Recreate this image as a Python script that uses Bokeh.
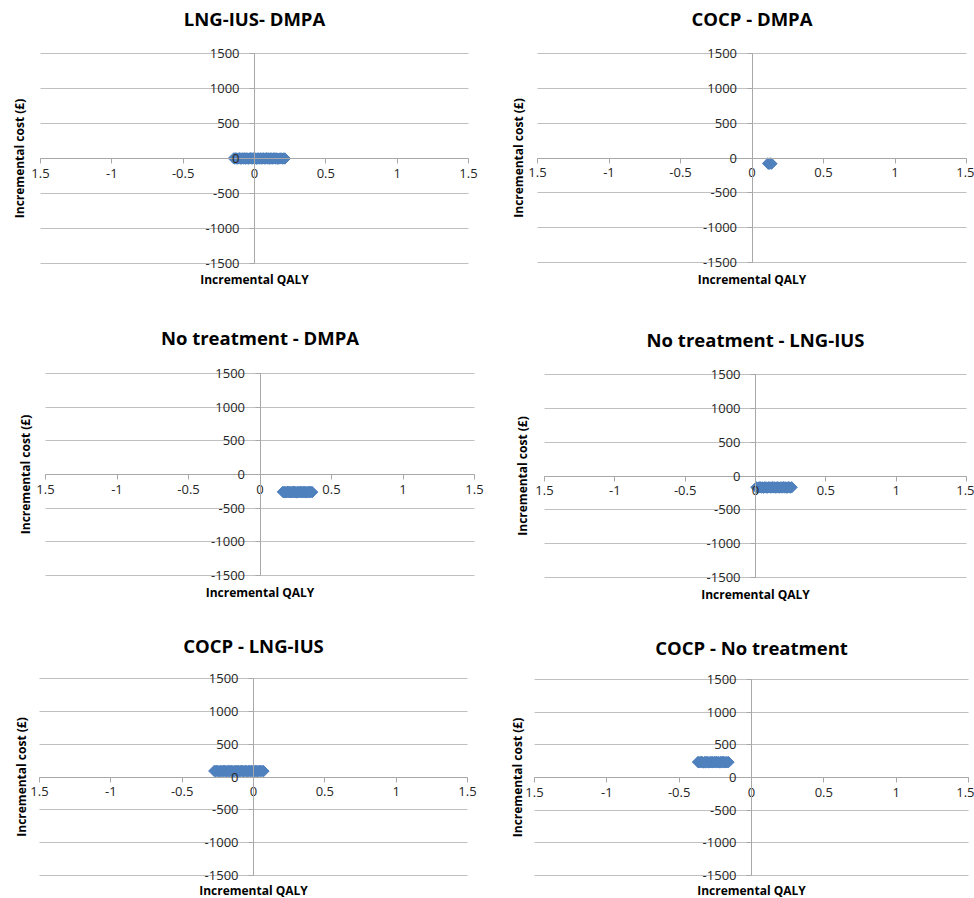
from math import pi
from bokeh.plotting import figure
from bokeh.models import FixedTicker, Label, Range1d
from bokeh.layouts import column, row
from bokeh.embed import file_html
from bokeh.resources import INLINE

# ---------------- data ----------------
titles = ["LNG-IUS- DMPA", "COCP - DMPA", "No treatment - DMPA",
          "No treatment - LNG-IUS", "COCP - LNG-IUS", "COCP - No treatment"]
x_title = "Incremental QALY"
y_title = "Incremental cost (\u00a3)"

x_ticks = [-1.5, -1.0, -0.5, 0.0, 0.5, 1.0, 1.5]
x_tick_labels = ["1.5", "-1", "-0.5", "0", "0.5", "1", "1.5"]
y_ticks = [-1500, -1000, -500, 0, 500, 1000, 1500]
y_tick_labels = ["-1500", "-1000", "-500", "0", "500", "1000", "1500"]

lng_dmpa_qaly = [-0.145, -0.138, -0.131, -0.124, -0.117, -0.11, -0.103, -0.096, -0.089, -0.082,
                 -0.075, -0.068, -0.061, -0.054, -0.047, -0.04, -0.033, -0.026, -0.019, -0.012,
                 -0.005, 0.002, 0.009, 0.016, 0.023, 0.03, 0.037, 0.044, 0.051, 0.058,
                 0.065, 0.072, 0.079, 0.086, 0.093, 0.1, 0.107, 0.114, 0.121, 0.128,
                 0.135, 0.142, 0.149, 0.156, 0.164, 0.175, 0.186, 0.196, 0.205, 0.213]
lng_dmpa_cost = [2, -1, 3, 0, -2, 1, 4, -3, 0, 2,
                 -1, 3, -2, 1, 0, -3, 2, 4, -1, 0,
                 3, -2, 1, -4, 2, 0, -1, 3, -3, 1,
                 2, -2, 0, 4, -1, 1, -3, 2, 0, -2,
                 3, 1, -1, 2, -4, 0, 3, -2, 1, 0]

cocp_dmpa_qaly = [0.112, 0.118, 0.124, 0.13, 0.136]
cocp_dmpa_cost = [-78, -83, -80, -77, -82]

none_dmpa_qaly = [0.16, 0.167, 0.174, 0.181, 0.188, 0.195, 0.202, 0.209, 0.216, 0.223,
                  0.23, 0.237, 0.244, 0.251, 0.258, 0.265, 0.272, 0.279, 0.286, 0.293,
                  0.3, 0.307, 0.314, 0.321, 0.328, 0.335, 0.342, 0.349, 0.356, 0.365]
none_dmpa_cost = [-258, -264, -260, -266, -261, -257, -263, -259, -265, -262,
                  -260, -256, -264, -261, -267, -259, -263, -260, -258, -265,
                  -262, -257, -264, -260, -266, -261, -259, -263, -258, -262]

none_lng_qaly = [0.006, 0.015, 0.024, 0.032, 0.041, 0.05, 0.058, 0.067, 0.076, 0.084,
                 0.093, 0.102, 0.11, 0.119, 0.128, 0.136, 0.145, 0.154, 0.162, 0.171,
                 0.18, 0.188, 0.197, 0.206, 0.214, 0.223, 0.232, 0.24, 0.249, 0.257]
none_lng_cost = [-167, -173, -169, -165, -171, -168, -174, -166, -170, -172,
                 -167, -169, -171, -165, -170, -168, -173, -166, -169, -172,
                 -167, -171, -165, -170, -168, -174, -166, -169, -171, -167]

cocp_lng_qaly = [-0.275, -0.266, -0.257, -0.248, -0.239, -0.23, -0.221, -0.212, -0.203, -0.194,
                 -0.185, -0.176, -0.167, -0.158, -0.149, -0.14, -0.131, -0.122, -0.113, -0.104,
                 -0.095, -0.086, -0.077, -0.068, -0.059, -0.05, -0.041, -0.032, -0.023, -0.014,
                 -0.005, 0.004, 0.013, 0.022, 0.031, 0.041, 0.05, 0.06, 0.07]
cocp_lng_cost = [92, 88, 94, 90, 86, 93, 89, 91, 95, 87,
                 90, 92, 88, 94, 90, 86, 91, 93, 89, 92,
                 87, 95, 90, 88, 93, 91, 86, 94, 89, 92,
                 90, 87, 93, 91, 88, 95, 90, 92, 89]

cocp_none_qaly = [-0.37, -0.362, -0.355, -0.347, -0.34, -0.332, -0.325, -0.317, -0.31, -0.302,
                  -0.295, -0.287, -0.28, -0.272, -0.265, -0.257, -0.25, -0.242, -0.235, -0.227,
                  -0.22, -0.212, -0.205, -0.197, -0.19, -0.182, -0.175, -0.167, -0.159]
cocp_none_cost = [237, 231, 235, 240, 233, 229, 236, 232, 238, 234,
                  230, 235, 233, 239, 231, 236, 234, 238, 232, 235,
                  230, 237, 233, 240, 234, 231, 236, 232, 235]

series = [(lng_dmpa_qaly, lng_dmpa_cost), (cocp_dmpa_qaly, cocp_dmpa_cost),
          (none_dmpa_qaly, none_dmpa_cost), (none_lng_qaly, none_lng_cost),
          (cocp_lng_qaly, cocp_lng_cost), (cocp_none_qaly, cocp_none_cost)]

# ---------------- layout (page pixel positions) ----------------
layouts = [
    dict(fl=0, ft=0, fw=490, fh=310, x0=40, x1=468, yt=53, yb=263, ty=18, lx=19, ly=279),
    dict(fl=490, ft=0, fw=484, fh=310, x0=537, x1=966, yt=53, yb=262, ty=18, lx=518, ly=279),
    dict(fl=0, ft=310, fw=490, fh=310, x0=45, x1=474, yt=373, yb=575, ty=337, lx=25, ly=592),
    dict(fl=490, ft=310, fw=484, fh=310, x0=544, x1=966, yt=374, yb=577, ty=339, lx=522, ly=594),
    dict(fl=0, ft=620, fw=490, fh=278, x0=39, x1=467, yt=678, yb=875, ty=645, lx=21, ly=890),
    dict(fl=490, ft=620, fw=484, fh=278, x0=534, x1=968, yt=679, yb=875, ty=647, lx=517, ly=890),
]

FONT = "Open Sans"
GRID = "#c0c0c0"
AXIS = "#a8a8a8"
BLUE = "#4f81bd"


def make_panel(title, xs, ys, L):
    xa, xb = x_ticks[0], x_ticks[-1]
    ya, yb = y_ticks[0], y_ticks[-1]
    sx = (L["x1"] - L["x0"]) / (xb - xa)
    sy = (L["yb"] - L["yt"]) / (yb - ya)
    x_start = xa - (L["x0"] - L["fl"]) / sx
    x_end = xb + (L["fl"] + L["fw"] - L["x1"]) / sx
    y_start = ya - (L["ft"] + L["fh"] - L["yb"]) / sy
    y_end = yb + (L["yt"] - L["ft"]) / sy

    p = figure(width=L["fw"], height=L["fh"], output_backend="svg", toolbar_location=None,
               x_range=Range1d(x_start, x_end), y_range=Range1d(y_start, y_end),
               min_border=0)
    p.min_border_left = p.min_border_right = p.min_border_top = p.min_border_bottom = 0
    p.outline_line_color = None
    p.xgrid.visible = False

    grid = p.ygrid[0]
    grid.ticker = FixedTicker(ticks=y_ticks)
    grid.grid_line_color = GRID
    try:
        grid.cross_bounds = (xa, xb)
    except AttributeError:
        grid.visible = False
        p.segment(x0=[xa] * len(y_ticks), x1=[xb] * len(y_ticks), y0=y_ticks, y1=y_ticks,
                  line_color=GRID, line_width=1)

    for ax in (p.xaxis[0], p.yaxis[0]):
        ax.fixed_location = 0
        ax.axis_line_color = AXIS
        ax.major_tick_line_color = AXIS
        ax.minor_tick_line_color = None
        ax.major_tick_in = 0
        ax.major_tick_out = 5
        ax.major_label_text_font = FONT
        ax.major_label_text_font_size = "13px"
        ax.major_label_text_color = "#262626"
    p.xaxis.bounds = (xa, xb)
    p.yaxis.bounds = (ya, yb)
    p.xaxis.ticker = FixedTicker(ticks=x_ticks)
    p.xaxis.major_label_overrides = {float(t): s for t, s in zip(x_ticks, x_tick_labels)}
    p.xaxis.major_label_standoff = 5
    p.yaxis.ticker = FixedTicker(ticks=y_ticks)
    p.yaxis.major_label_overrides = {float(t): s for t, s in zip(y_ticks, y_tick_labels)}
    p.yaxis.major_label_standoff = 10

    p.scatter(xs, ys, marker="square", angle=pi / 4, size=8,
              fill_color=BLUE, line_color=BLUE)

    cx = (L["x0"] + L["x1"]) / 2 - L["fl"]
    H = L["fh"]
    p.add_layout(Label(x=cx, y=H - (L["ty"] - L["ft"]), x_units="screen", y_units="screen",
                       text=title, text_font=FONT, text_font_style="bold",
                       text_font_size="18.5px", text_align="center", text_baseline="middle",
                       text_color="#000000"))
    p.add_layout(Label(x=cx, y=H - (L["ly"] - L["ft"]), x_units="screen", y_units="screen",
                       text=x_title, text_font=FONT, text_font_style="bold",
                       text_font_size="12px", text_align="center", text_baseline="middle",
                       text_color="#000000"))
    p.add_layout(Label(x=L["lx"] - L["fl"], y=H - ((L["yt"] + L["yb"]) / 2 - L["ft"]),
                       x_units="screen", y_units="screen", angle=pi / 2,
                       text=y_title, text_font=FONT, text_font_style="bold",
                       text_font_size="12px", text_align="center", text_baseline="middle",
                       text_color="#000000"))
    return p


panels = [make_panel(t, s[0], s[1], L) for t, s, L in zip(titles, series, layouts)]
page = column(row(panels[0], panels[1]), row(panels[2], panels[3]), row(panels[4], panels[5]))

open("out.html", "w").write(file_html(page, INLINE))
